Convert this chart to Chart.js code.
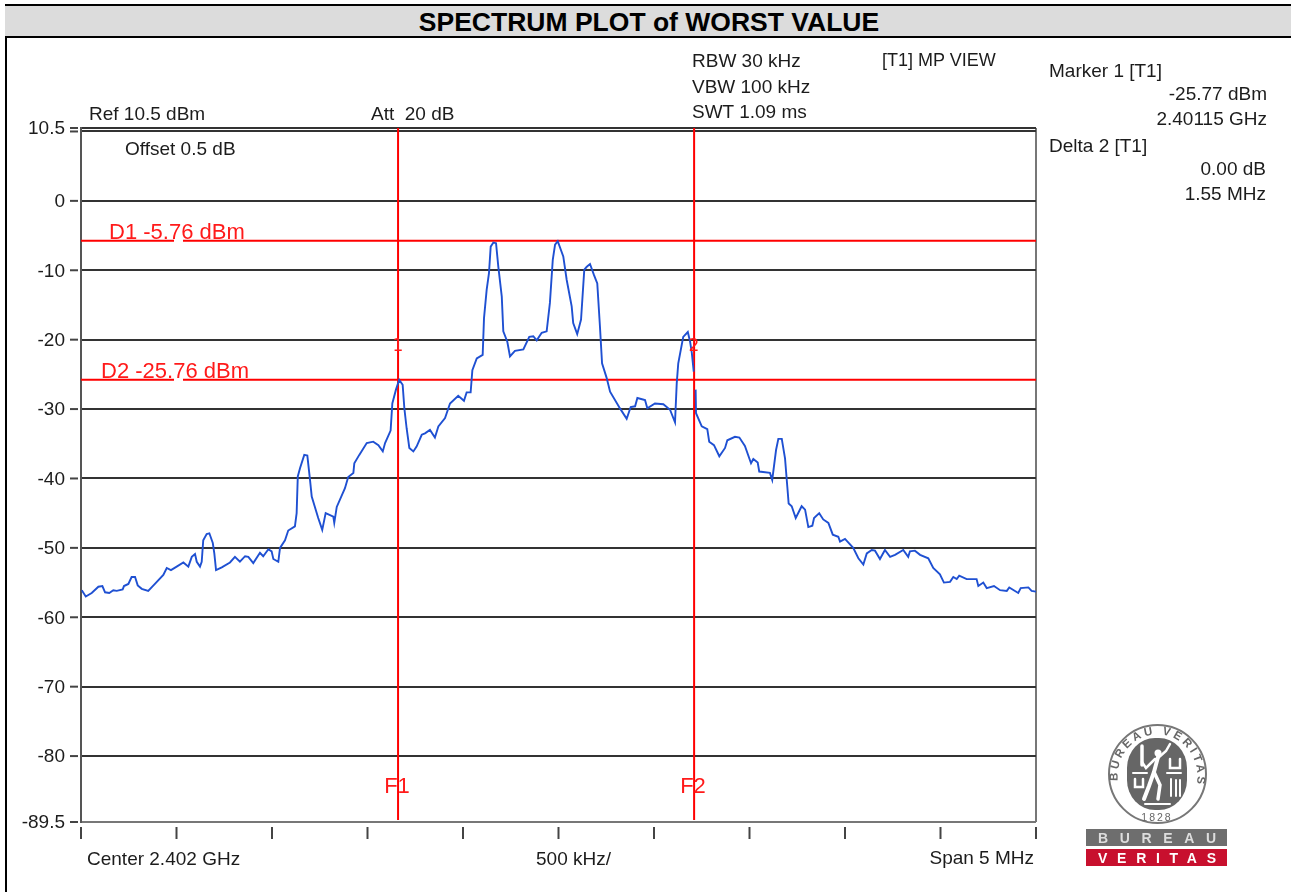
<!DOCTYPE html>
<html>
<head>
<meta charset="utf-8">
<title>Spectrum plot of worst value</title>
<script src="https://cdn.jsdelivr.net/npm/chart.js@4/dist/chart.umd.min.js"></script>
<style>
    html, body { margin: 0; padding: 0; background: #fff; overflow: hidden; }
    body { width: 1291px; height: 892px; position: relative; font-family: "Liberation Sans", Arial, sans-serif; }
    #leftEdge { position: absolute; left: 5px; top: 4px; width: 2px; height: 888px; background: #000; }
    #band { position: absolute; left: 5px; top: 4px; right: 0; height: 30px; background: #dcdcdc; border-top: 2px solid #000; border-bottom: 2px solid #000; }
    #band div { position: absolute; left: 0; width: 1288px; top: 1px; text-align: center; font-weight: bold; font-size: 26.5px; line-height: 30px; color: #000; }
    #plot { position: absolute; left: 0; top: 0; }
    .note { position: absolute; white-space: pre; font-size: 19px; line-height: 22px; color: #1c1c1c; transform: translateY(-50%); }
    .note.right { transform: translate(-100%, -50%); }
    .note.mid { transform: translate(-50%, -50%); }
    .note.tight { font-size: 18px; }
    .note.red { color: #ff1a1a; font-size: 22px; }
    .note.mark { font-family: "DejaVu Sans", sans-serif; font-size: 17px; }
    #logo { position: absolute; left: 1086px; top: 720px; filter: blur(0.4px); }
</style>
</head>
<body>
<div id="leftEdge"></div>
<div id="band"><div>SPECTRUM PLOT of WORST VALUE</div></div>
<canvas id="plot" width="1291" height="892"></canvas>
<svg id="logo" width="145" height="150" viewBox="1086 720 145 150" xmlns="http://www.w3.org/2000/svg">
    <defs>
        <path id="ring" d="M1118 783 A 40 42 0 1 1 1197 783"></path>
    </defs>
    <ellipse cx="1157.5" cy="774" rx="48.5" ry="49" fill="#fff" stroke="#777" stroke-width="2"></ellipse>
    <rect x="1127" y="738" width="60" height="72" rx="28" ry="30" fill="#666"></rect>
    <text font-family="Liberation Sans" font-weight="bold" font-size="11.5" letter-spacing="3" fill="#666"><textPath href="#ring" startOffset="2">BUREAU VERITAS</textPath></text>
    <text x="1157" y="821" text-anchor="middle" font-family="Liberation Sans" font-size="10.5" letter-spacing="2" fill="#666">1828</text>
    <g fill="none" stroke="#fff" stroke-linecap="round">
        <circle cx="1158" cy="753" r="3.5" fill="#fff" stroke="none"></circle>
        <path d="M1158 757 L1154 772 L1149 786 L1144 799" stroke-width="4"></path>
        <path d="M1154 772 L1160 785 L1158 799" stroke-width="3.5"></path>
        <path d="M1158 758 L1166 751 L1170 744" stroke-width="2.5"></path>
        <path d="M1155 759 L1146 768 L1142 762" stroke-width="2.5"></path>
        <path d="M1142 765 L1142 746" stroke-width="3.5"></path>
        <path d="M1133 773 L1147 773 M1167 773 L1181 773 M1145 804 L1170 804" stroke-width="2"></path>
        <path d="M1135 779 L1135 787 L1143 787 L1143 779" stroke-width="2.5"></path>
        <path d="M1171 779 L1171 796 M1176 780 L1176 796 M1180 780 L1180 796" stroke-width="2"></path>
        <path d="M1170 759 L1170 768 L1180 768 L1180 759" stroke-width="2.5"></path>
    </g>
    <rect x="1086" y="829" width="141" height="17" fill="#6e6e6e"></rect>
    <rect x="1086" y="849" width="141" height="17" fill="#c8102e"></rect>
    <text x="1098" y="843" font-family="Liberation Sans" font-weight="bold" font-size="14" fill="#ddd" textLength="118">BUREAU</text>
    <text x="1098" y="863" font-family="Liberation Sans" font-weight="bold" font-size="14" fill="#fff" textLength="118">VERITAS</text>
</svg>

<script>
// Trace: offset from the start of the span (MHz) and level (dBm)
const freqMHz = [
    0.004, 0.025, 0.056, 0.091, 0.112, 0.126, 0.148, 0.169, 0.187, 0.218, 0.225, 0.248, 0.265, 0.283, 0.297, 0.318, 0.352, 0.387, 0.431, 0.449,
    0.471, 0.501, 0.536, 0.562, 0.580, 0.597, 0.606, 0.623, 0.632, 0.640, 0.658, 0.672, 0.690, 0.698, 0.707, 0.737, 0.780, 0.806, 0.832, 0.859,
    0.876, 0.902, 0.937, 0.954, 0.981, 0.998, 1.007, 1.033, 1.042, 1.068, 1.085, 1.120, 1.129, 1.135, 1.147, 1.169, 1.185, 1.199, 1.208, 1.242,
    1.263, 1.281, 1.321, 1.326, 1.339, 1.382, 1.399, 1.426, 1.431, 1.457, 1.496, 1.530, 1.557, 1.580, 1.592, 1.621, 1.630, 1.649, 1.666, 1.684,
    1.693, 1.705, 1.719, 1.740, 1.757, 1.784, 1.801, 1.827, 1.853, 1.871, 1.906, 1.932, 1.975, 2.005, 2.019, 2.040, 2.049, 2.072, 2.103, 2.110,
    2.124, 2.136, 2.145, 2.159, 2.173, 2.185, 2.203, 2.211, 2.232, 2.246, 2.272, 2.316, 2.347, 2.368, 2.386, 2.412, 2.438, 2.455, 2.470, 2.482,
    2.496, 2.525, 2.543, 2.569, 2.577, 2.598, 2.618, 2.635, 2.648, 2.665, 2.686, 2.703, 2.717, 2.728, 2.752, 2.770, 2.822, 2.857, 2.878, 2.901,
    2.913, 2.953, 2.965, 3.005, 3.049, 3.084, 3.110, 3.119, 3.127, 3.153, 3.177, 3.189, 3.198, 3.208, 3.213, 3.218, 3.220, 3.250, 3.279, 3.289,
    3.314, 3.342, 3.372, 3.384, 3.424, 3.447, 3.476, 3.508, 3.520, 3.543, 3.551, 3.607, 3.619, 3.639, 3.651, 3.669, 3.686, 3.698, 3.705, 3.721,
    3.742, 3.773, 3.791, 3.808, 3.829, 3.838, 3.865, 3.886, 3.913, 3.936, 3.965, 3.974, 4.000, 4.043, 4.070, 4.096, 4.114, 4.140, 4.157, 4.183,
    4.209, 4.236, 4.262, 4.305, 4.331, 4.340, 4.366, 4.393, 4.436, 4.462, 4.497, 4.518, 4.550, 4.567, 4.585, 4.598, 4.637, 4.689, 4.698, 4.724,
    4.742, 4.780, 4.812, 4.847, 4.860, 4.907, 4.920, 4.960, 4.977, 5.000
];
const levelDb = [
    -56.1, -57.0, -56.5, -55.6, -55.5, -56.4, -56.5, -56.1, -56.2, -56.0, -55.5, -55.2, -54.2, -54.2, -55.4, -55.9, -56.2, -55.2, -53.9, -52.9,
    -53.2, -52.7, -52.1, -52.7, -51.3, -50.9, -52.0, -52.7, -52.0, -48.9, -48.0, -47.9, -49.3, -50.8, -53.2, -52.8, -52.1, -51.3, -52.0, -51.2,
    -51.3, -52.2, -50.7, -51.2, -50.2, -50.5, -51.6, -52.0, -50.0, -48.9, -47.5, -46.9, -45.0, -39.7, -38.5, -36.6, -36.7, -40.2, -42.6, -45.7,
    -47.4, -45.0, -45.5, -46.4, -44.1, -41.4, -39.8, -39.2, -37.8, -36.6, -34.9, -34.7, -35.2, -36.1, -34.9, -33.1, -29.2, -27.2, -25.8, -26.5,
    -29.9, -32.8, -35.6, -36.1, -35.4, -33.7, -33.5, -33.0, -34.1, -32.5, -31.3, -29.2, -28.1, -28.8, -27.6, -27.6, -24.4, -22.7, -22.2, -16.9,
    -12.8, -10.4, -6.6, -6.0, -6.1, -9.5, -13.8, -18.8, -20.3, -22.4, -21.6, -21.4, -19.6, -19.5, -20.1, -19.0, -18.8, -14.7, -8.5, -6.3,
    -5.8, -8.0, -11.4, -15.2, -17.6, -19.2, -17.1, -9.9, -9.5, -9.1, -10.7, -11.9, -18.1, -23.4, -25.5, -27.5, -29.9, -31.4, -29.7, -29.6,
    -28.4, -28.7, -29.9, -29.2, -29.3, -30.1, -31.9, -26.3, -23.4, -19.6, -18.9, -20.3, -21.9, -24.6, null, -27.2, -30.6, -32.5, -32.9, -34.7,
    -35.2, -36.8, -35.6, -34.5, -34.0, -34.1, -35.3, -37.8, -37.2, -37.7, -39.0, -39.2, -40.2, -35.9, -34.3, -34.3, -37.1, -41.2, -43.6, -44.0,
    -45.7, -44.0, -44.5, -47.0, -46.8, -45.7, -45.0, -45.9, -46.4, -48.1, -48.4, -49.1, -48.7, -50.0, -51.5, -52.4, -50.8, -50.3, -50.4, -51.6,
    -50.3, -51.3, -51.0, -50.3, -51.3, -50.5, -50.4, -51.0, -51.5, -52.9, -53.8, -55.0, -54.9, -54.2, -54.5, -54.0, -54.5, -54.5, -55.5, -55.0,
    -55.8, -55.5, -56.1, -56.2, -55.7, -56.5, -55.8, -55.7, -56.2, -56.3
];

// Display lines and marker frequencies
const d1Level = -5.76;
const d2Level = -25.76;
const f1MHz = 1.66;
const f2MHz = 3.21;
const lineGapMHz = [0.487, 0.534]; // the D lines are broken under the label text

const yTicks = [10.5, 10, 0, -10, -20, -30, -40, -50, -60, -70, -80, -89.5];
const xTicks = [0, 0.5, 1, 1.5, 2, 2.5, 3, 3.5, 4, 4.5, 5];

// Text around the plot: [text, x, centre y, alignment, extra classes]
const notes = [
    ['RBW 30 kHz', 692, 61], ['VBW 100 kHz', 692, 87], ['SWT 1.09 ms', 692, 112], ['[T1] MP VIEW', 882, 60, '', 'tight'],
    ['Marker 1 [T1]', 1049, 71], ['-25.77 dBm', 1267, 94, 'right'], ['2.40115 GHz', 1267, 119, 'right'],
    ['Delta 2 [T1]', 1049, 146], ['0.00 dB', 1266, 169, 'right'], ['1.55 MHz', 1266, 194, 'right'],
    ['Ref 10.5 dBm', 89, 114], ['Att  20 dB', 371, 114], ['Offset 0.5 dB', 125, 149],
    ['Center 2.402 GHz', 87, 859], ['500 kHz/', 536, 859], ['Span 5 MHz', 1034, 858, 'right'],
    ['D1 -5.76 dBm', 109, 232, '', 'red'], ['D2 -25.76 dBm', 101, 371, '', 'red'],
    ['1', 398, 345, 'mid', 'red mark'], ['2', 694, 345, 'mid', 'red mark'],
    ['F1', 397, 786, 'mid', 'red'], ['F2', 693, 786, 'mid', 'red']
];

notes.forEach(([text, x, y, align, extra]) => {
    const el = document.createElement('div');
    el.className = ['note', align, extra].filter(Boolean).join(' ');
    el.textContent = text;
    el.style.left = x + 'px';
    el.style.top = y + 'px';
    document.body.appendChild(el);
});

function brokenLine(level) {
    return [
        { x: 0, y: level }, { x: lineGapMHz[0], y: level }, { x: lineGapMHz[0], y: null },
        { x: lineGapMHz[1], y: level }, { x: 5, y: level }
    ];
}

function markerLine(freq) {
    return [{ x: freq, y: 10.5 }, { x: freq, y: -89.2 }];
}

// The tick marks stand off from the frame, which grid.tickLength cannot do
const standoffTicks = {
    id: 'standoffTicks',
    afterDraw(chart) {
        const { ctx, chartArea, scales } = chart;
        ctx.save();
        ctx.strokeStyle = '#444';
        ctx.lineWidth = 2;
        xTicks.forEach(value => {
            const x = scales.x.getPixelForValue(value);
            ctx.beginPath();
            ctx.moveTo(x, chartArea.bottom + 5);
            ctx.lineTo(x, chartArea.bottom + 17);
            ctx.stroke();
        });
        yTicks.forEach(value => {
            const y = scales.y.getPixelForValue(value);
            ctx.beginPath();
            ctx.moveTo(chartArea.left - 11, y);
            ctx.lineTo(chartArea.left - 3, y);
            ctx.stroke();
        });
        ctx.restore();
    }
};

const redLine = { borderColor: '#ff0000', borderWidth: 2, pointRadius: 0, tension: 0 };

new Chart(document.getElementById('plot').getContext('2d'), {
    type: 'line',
    data: {
        datasets: [
            {
                label: 'Trace',
                data: freqMHz.map((x, i) => ({ x: x, y: levelDb[i] })),
                borderColor: '#1f50d2',
                borderWidth: 1.9,
                pointRadius: 0,
                tension: 0
            },
            { label: 'D1', data: brokenLine(d1Level), ...redLine },
            { label: 'D2', data: brokenLine(d2Level), ...redLine },
            { label: 'F1', data: markerLine(f1MHz), ...redLine },
            { label: 'F2', data: markerLine(f2MHz), ...redLine }
        ]
    },
    options: {
        responsive: false,
        animation: false,
        events: [],
        layout: { padding: { left: 0, right: 255, top: 128, bottom: 0 } },
        plugins: { legend: { display: false }, title: { display: false }, tooltip: { enabled: false } },
        scales: {
            x: {
                type: 'linear',
                min: 0,
                max: 5,
                afterBuildTicks: scale => { scale.ticks = xTicks.map(value => ({ value })); },
                afterFit: scale => { scale.height = 70; },
                ticks: { display: false },
                border: { display: false },
                grid: {
                    drawTicks: false,
                    lineWidth: 2,
                    color: ctx => (ctx.tick && ctx.tick.value === 5 ? '#777' : 'transparent')
                }
            },
            y: {
                type: 'linear',
                min: -89.5,
                max: 10.5,
                afterBuildTicks: scale => { scale.ticks = yTicks.map(value => ({ value })); },
                afterFit: scale => { scale.width = 81; },
                ticks: {
                    autoSkip: false,
                    padding: 16,
                    labelOffset: 1,
                    color: '#1c1c1c',
                    font: { family: '"Liberation Sans"', size: 19 },
                    callback: value => (value === 10 ? '' : String(value))
                },
                border: { color: '#555', width: 2 },
                grid: {
                    drawTicks: false,
                    lineWidth: 2,
                    color: ctx => (ctx.tick && ctx.tick.value === -89.5 ? '#777' : '#333')
                }
            }
        }
    },
    plugins: [standoffTicks]
});
</script>
</body>
</html>
